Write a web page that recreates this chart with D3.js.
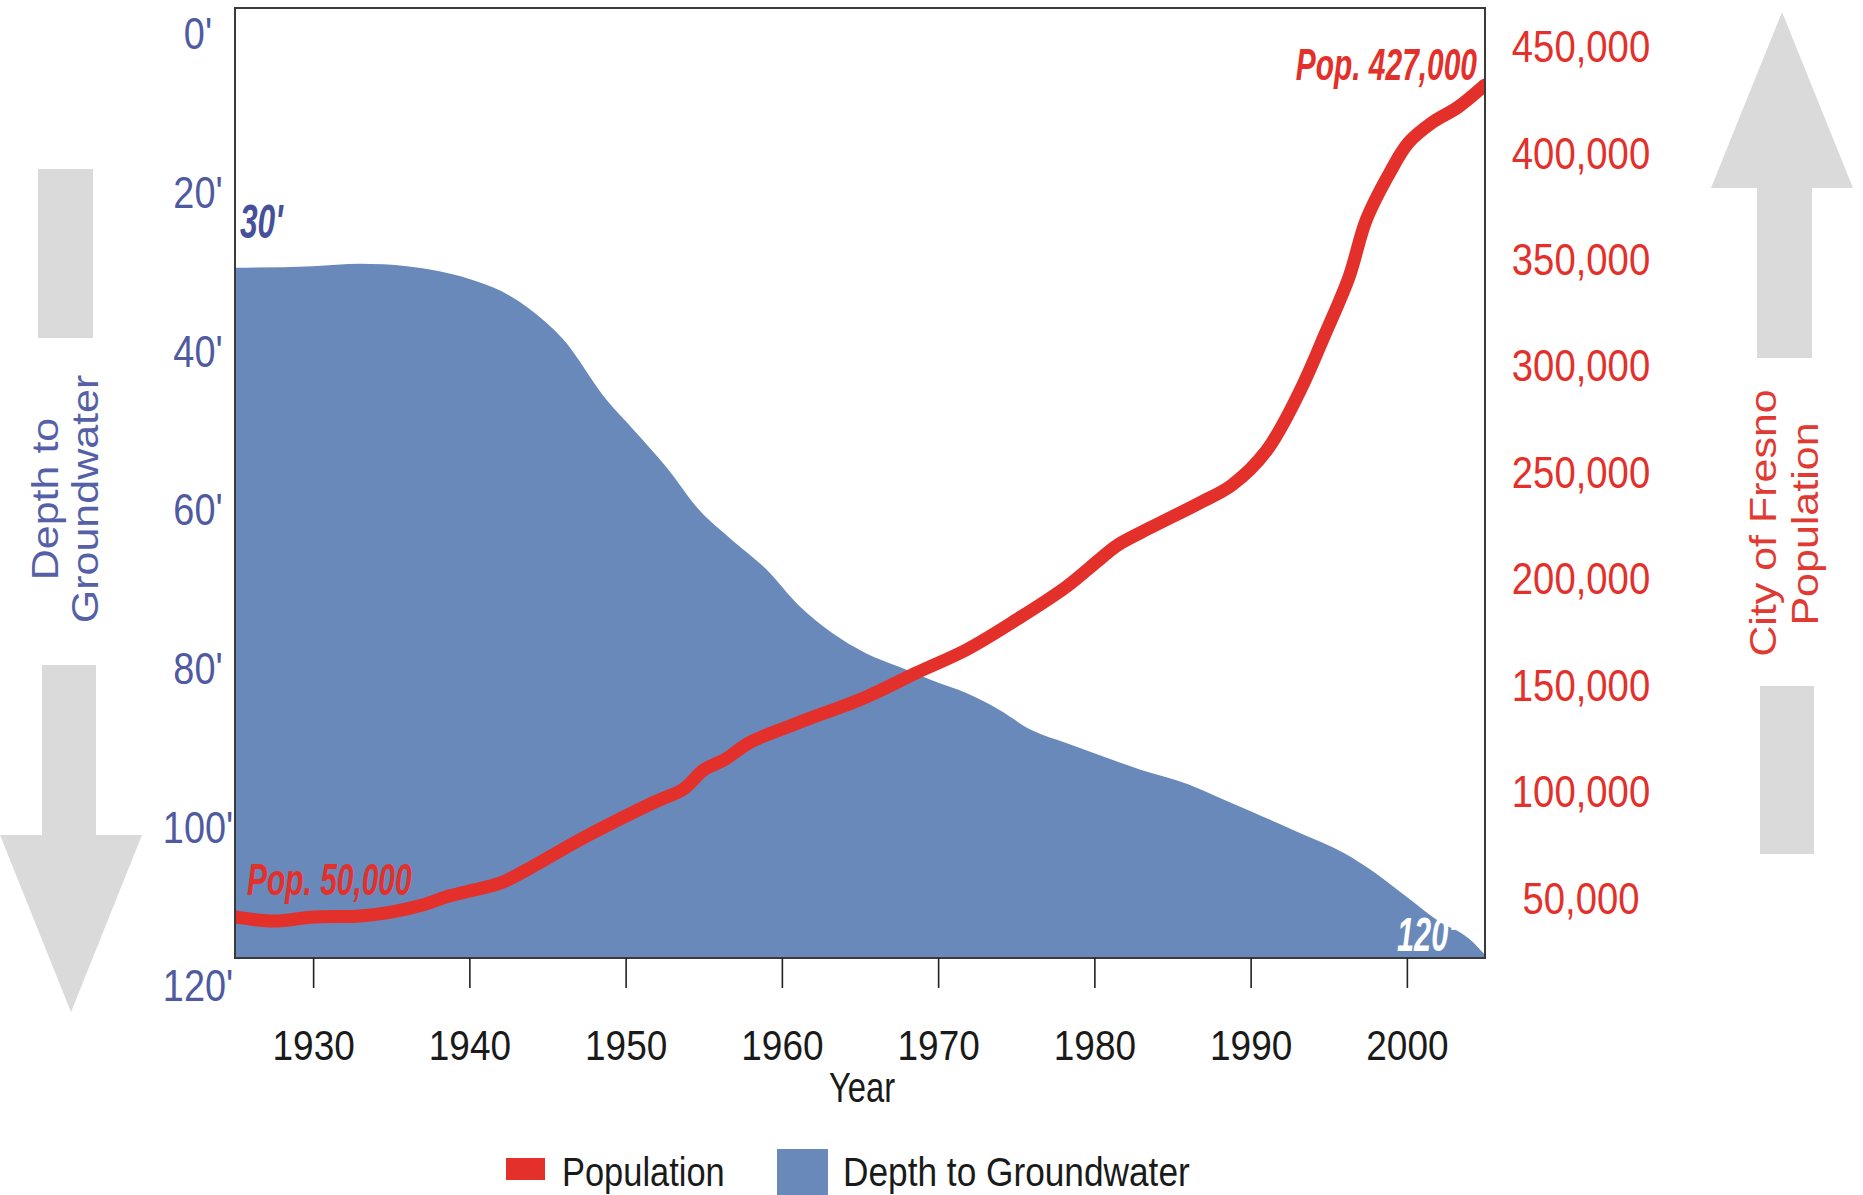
<!DOCTYPE html>
<html>
<head>
<meta charset="utf-8">
<script src="https://cdn.jsdelivr.net/npm/d3@7"></script>
<style>
  html, body { margin: 0; padding: 0; background: #ffffff; }
  svg { display: block; font-family: "Liberation Sans", Arial, Helvetica, sans-serif; }
</style>
</head>
<body>
<svg id="chart" width="1863" height="1195"></svg>
<script>
// ---------------- data ----------------
const xTickYears = [1930, 1940, 1950, 1960, 1970, 1980, 1990, 2000];
const depthTicks = [0, 20, 40, 60, 80, 100, 120];
const popTicks = [50000, 100000, 150000, 200000, 250000, 300000, 350000, 400000, 450000];

const depthYears = [1925, 1930, 1933, 1936, 1938, 1940, 1942, 1944, 1946, 1948.8, 1950.5, 1952.6, 1954.7, 1956.8, 1959, 1961.1, 1963.2, 1965.4, 1967.5, 1969.6, 1971.8, 1973.9, 1976, 1978.2, 1980.3, 1983, 1986, 1988, 1990, 1993, 1996, 1998, 2000, 2002, 2004, 2005];
const depthFeet  = [29.6, 29.4, 29.1, 29.4, 30.0, 31.0, 32.5, 35.0, 38.6, 46.3, 50.0, 54.7, 60.1, 63.9, 67.6, 72.2, 75.6, 78.2, 79.9, 81.6, 83.2, 85.3, 87.9, 89.5, 91.0, 92.9, 94.7, 96.4, 98.1, 100.7, 103.4, 105.9, 108.9, 111.9, 114.2, 116.2];

const popYears = [1925, 1927.5, 1930, 1933, 1935, 1937, 1938.5, 1940, 1942, 1944, 1946, 1948, 1950, 1952, 1953.7, 1955, 1956.3, 1958, 1961, 1965.4, 1968.6, 1971.8, 1975, 1978.2, 1980.3, 1981.5, 1983.7, 1986.7, 1988.8, 1991, 1993.1, 1994.8, 1996.3, 1997.4, 1998.9, 2000.1, 2001.6, 2003.3, 2005];
const population = [40600, 38700, 40600, 41100, 42900, 46200, 50000, 52800, 56600, 64100, 72500, 80500, 88000, 95100, 100700, 109700, 114400, 122800, 131700, 144000, 155300, 166100, 180200, 195700, 208400, 215400, 223900, 235000, 243500, 259500, 286800, 315000, 341300, 368100, 390200, 404300, 413700, 421200, 431500];

const annotations = { start: "Pop. 50,000", end: "Pop. 427,000", topDepth: "30'", bottomDepth: "120'" };
const legendItems = ["Population", "Depth to Groundwater"];

// ---------------- layout ----------------
const RED = "#e3302a", BLUE = "#6a89bb", SLATE = "#4f5aa0", GREY = "#dadada";
const plot = { left: 235, top: 8, right: 1485, bottom: 958 };

const svg = d3.select("#chart");
svg.append("rect").attr("width", 1863).attr("height", 1195).attr("fill", "#fff");

const x = d3.scaleLinear().domain([1925, 2005]).range([plot.left, plot.right]);
const yDepth = d3.scaleLinear().domain([0, 120]).range([33, 985]);
const yPop = d3.scaleLinear().domain([50000, 400000]).range([897, 152]);

// clip
svg.append("defs").append("clipPath").attr("id", "plotclip")
  .append("rect").attr("x", plot.left).attr("y", plot.top)
  .attr("width", plot.right - plot.left).attr("height", plot.bottom - plot.top);

const gPlot = svg.append("g").attr("clip-path", "url(#plotclip)");

// depth area
const depthData = depthYears.map((yr, i) => ({ yr, d: depthFeet[i] }));
const area = d3.area()
  .x(p => x(p.yr))
  .y0(plot.bottom + 5)
  .y1(p => yDepth(p.d))
  .curve(d3.curveMonotoneX);
gPlot.append("path").datum(depthData).attr("d", area).attr("fill", BLUE);

// population line
const popData = popYears.map((yr, i) => ({ yr, p: population[i] }));
const line = d3.line()
  .x(p => x(p.yr))
  .y(p => yPop(p.p))
  .curve(d3.curveCatmullRom.alpha(0.5));
gPlot.append("path").datum(popData).attr("d", line)
  .attr("fill", "none").attr("stroke", RED).attr("stroke-width", 13)
  .attr("stroke-linecap", "round").attr("stroke-linejoin", "round");

// frame
svg.append("rect").attr("x", plot.left).attr("y", plot.top)
  .attr("width", plot.right - plot.left).attr("height", plot.bottom - plot.top)
  .attr("fill", "none").attr("stroke", "#3a3a3a").attr("stroke-width", 2);

// bottom axis
const gx = svg.append("g").attr("transform", `translate(0,${plot.bottom})`)
  .call(d3.axisBottom(x).tickValues(xTickYears).tickSize(30).tickFormat(d3.format("d")));
gx.select(".domain").remove();
gx.selectAll(".tick line").attr("stroke", "#222").attr("stroke-width", 1.6);
gx.selectAll(".tick text")
  .attr("x", 0).attr("y", 102).attr("dy", 0)
  .attr("fill", "#1a1a1a").attr("font-size", 42)
  .attr("text-anchor", "middle")
  .attr("transform", "scale(0.88,1)");

// x title
svg.append("text").attr("transform", "translate(862,1102) scale(0.78,1)")
  .attr("text-anchor", "middle").attr("font-size", 42).attr("fill", "#1a1a1a").text("Year");

// left depth axis
const gl = svg.append("g").attr("transform", "translate(198,0)")
  .call(d3.axisLeft(yDepth).tickValues(depthTicks).tickSize(0).tickFormat(d => d + "'"));
gl.select(".domain").remove();
gl.selectAll(".tick text")
  .attr("x", 0).attr("dy", "0.36em").attr("text-anchor", "middle")
  .attr("fill", SLATE).attr("font-size", 44)
  .attr("transform", "scale(0.86,1)");

// right population axis
const gr = svg.append("g").attr("transform", "translate(1581,0)")
  .call(d3.axisRight(yPop).tickValues(popTicks).tickSize(0).tickFormat(d3.format(",")));
gr.select(".domain").remove();
gr.selectAll(".tick text")
  .attr("x", 0).attr("dy", "0.36em").attr("text-anchor", "middle")
  .attr("fill", RED).attr("font-size", 44.5)
  .attr("transform", "scale(0.86,1)");

// annotations (bold italic, condensed by horizontal scaling)
function ann(txt, x0, yb, size, sx, fill, anchor) {
  svg.append("text").attr("transform", `translate(${x0},${yb}) scale(${sx},1)`)
    .attr("text-anchor", anchor || "start")
    .attr("font-size", size).attr("font-weight", "bold").attr("font-style", "italic")
    .attr("fill", fill).text(txt);
}
ann(annotations.start, 247, 895, 45, 0.665, RED);
ann(annotations.end, 1477, 80, 45, 0.665, RED, "end");
ann(annotations.topDepth, 240, 238, 48, 0.66, "#46509a");
ann(annotations.bottomDepth, 1397, 951, 48, 0.64, "#ffffff");

// side arrows
svg.append("rect").attr("x", 38).attr("y", 169).attr("width", 55).attr("height", 169).attr("fill", GREY);
svg.append("path").attr("fill", GREY)
  .attr("d", "M42,665 L96,665 L96,835 L142,835 L71,1012 L0,835 L42,835 Z");
svg.append("path").attr("fill", GREY)
  .attr("d", "M1782,12 L1853,188 L1812,188 L1812,358 L1757,358 L1757,188 L1711,188 Z");
svg.append("rect").attr("x", 1760).attr("y", 686).attr("width", 54).attr("height", 168).attr("fill", GREY);

// rotated titles
function vtext(txt, bx, cy, fill) {
  svg.append("text").attr("transform", `translate(${bx},${cy}) scale(0.85,1) rotate(-90)`)
    .attr("text-anchor", "middle").attr("font-size", 43).attr("fill", fill).text(txt);
}
vtext("Depth to", 58, 499, "#5560a6");
vtext("Groundwater", 98, 499, "#5560a6");
vtext("City of Fresno", 1776, 523, "#e03a33");
vtext("Population", 1818, 524, "#e03a33");

// legend
svg.append("rect").attr("x", 506).attr("y", 1158).attr("width", 39).attr("height", 22).attr("fill", RED);
svg.append("text").attr("transform", "translate(562,1186) scale(0.84,1)")
  .attr("font-size", 41).attr("fill", "#1a1a1a").text(legendItems[0]);
svg.append("rect").attr("x", 777).attr("y", 1149).attr("width", 51).attr("height", 50).attr("fill", BLUE);
svg.append("text").attr("transform", "translate(843,1186) scale(0.86,1)")
  .attr("font-size", 41).attr("fill", "#1a1a1a").text(legendItems[1]);
</script>
</body>
</html>
